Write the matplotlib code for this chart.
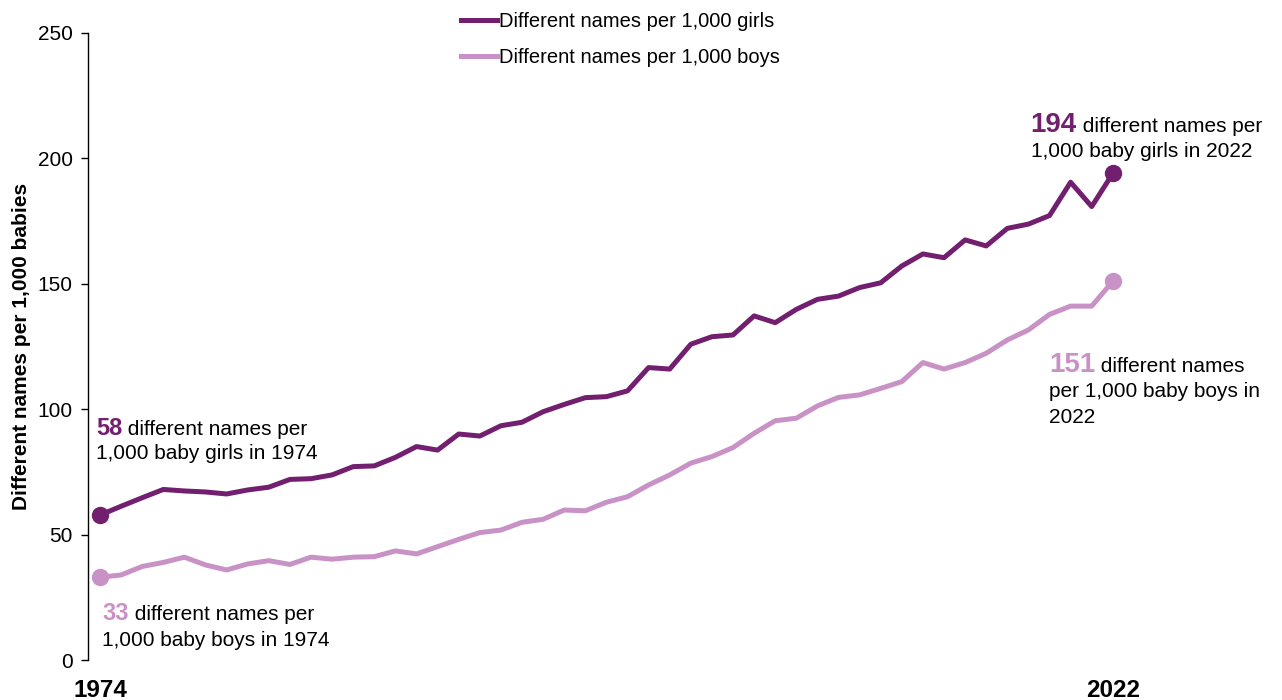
import matplotlib
matplotlib.use("Agg")
import matplotlib.pyplot as plt

# ---- data -------------------------------------------------------------
years = list(range(1974, 2023))
girls = [57.8, 61.3, 64.7, 68.0, 67.4, 67.0, 66.2, 67.8, 68.9, 72.0,
         72.3, 73.8, 77.1, 77.4, 80.8, 85.1, 83.7, 90.1, 89.3, 93.4,
         94.8, 99.0, 101.9, 104.6, 105.0, 107.3, 116.6, 116.0, 125.9, 128.9,
         129.6, 137.2, 134.5, 139.8, 143.8, 145.1, 148.5, 150.4, 157.1, 161.9,
         160.4, 167.5, 165.1, 172.1, 173.8, 177.2, 190.5, 180.8, 194.0]
boys = [33.0, 33.9, 37.3, 38.9, 41.0, 37.9, 35.9, 38.3, 39.6, 38.1,
        41.0, 40.2, 41.0, 41.2, 43.5, 42.3, 45.2, 48.1, 50.8, 51.8,
        54.9, 56.1, 59.8, 59.5, 62.9, 65.1, 69.8, 73.8, 78.5, 81.1,
        84.7, 90.4, 95.4, 96.4, 101.3, 104.7, 105.7, 108.3, 111.0, 118.6,
        116.0, 118.6, 122.3, 127.6, 131.6, 137.8, 141.1, 141.1, 151.0]
series_labels = ["Different names per 1,000 girls", "Different names per 1,000 boys"]
y_ticks = [0, 50, 100, 150, 200, 250]
x_ticks = [1974, 2022]
y_label = "Different names per 1,000 babies"

GIRL_COLOR = "#731f6f"
BOY_COLOR = "#c992c6"

plt.rcParams['font.family'] = ['Liberation Sans', 'DejaVu Sans']

fig = plt.figure(figsize=(12.82, 7.0), dpi=100)
ax = fig.add_axes([88 / 1282, 40 / 700, (1270 - 88) / 1282, 627 / 700])

ax.plot(years, girls, color=GIRL_COLOR, lw=3.6, label=series_labels[0])
ax.plot(years, boys, color=BOY_COLOR, lw=3.6, label=series_labels[1])
ax.plot([years[0], years[-1]], [girls[0], girls[-1]], 'o', ms=11.5, color=GIRL_COLOR)
ax.plot([years[0], years[-1]], [boys[0], boys[-1]], 'o', ms=11.5, color=BOY_COLOR)

ax.set_xlim(1973.431, 2029.45)
ax.set_ylim(0, 250)
for s in ['top', 'right', 'bottom']:
    ax.spines[s].set_visible(False)
ax.spines['left'].set_color('black')
ax.spines['left'].set_linewidth(1.0)

ax.set_yticks(y_ticks)
ax.tick_params(axis='y', length=5, width=1, labelsize=15, pad=6, colors='black')
ax.set_xticks(x_ticks)
ax.set_xticklabels([str(v) for v in x_ticks], fontsize=17.5, fontweight='bold')
ax.tick_params(axis='x', length=0, pad=13.5)
ax.set_ylabel(y_label, fontsize=15, fontweight='bold', labelpad=5)

ax.legend(loc='upper left', bbox_to_anchor=(461 / 1282, 1 - 12 / 700),
          bbox_transform=fig.transFigure, frameon=False, fontsize=14.5,
          handlelength=1.8, handletextpad=0.1, labelspacing=0.85,
          borderaxespad=0, borderpad=0)

fig.canvas.draw()


def callout(x, y, number, color, lines, num_size, txt_size, gap_px):
    t = ax.text(x, y, number, color=color, fontsize=num_size,
                fontweight='bold', va='baseline', ha='left')
    fig.canvas.draw()
    bb = t.get_window_extent()
    x0, _ = ax.transData.transform((x, y))
    ax.annotate(' ' + lines[0], xy=(x, y), xytext=(bb.x1 - x0, 0),
                textcoords='offset pixels', fontsize=txt_size,
                va='baseline', ha='left', color='black')
    for i, line in enumerate(lines[1:], start=1):
        ax.annotate(line, xy=(x, y), xytext=(0, -gap_px * i),
                    textcoords='offset pixels', fontsize=txt_size,
                    va='baseline', ha='left', color='black')


callout(1973.81, 89.7, "58", GIRL_COLOR,
        ["different names per", "1,000 baby girls in 1974"], 17, 15, 24)
callout(1974.10, 15.95, "33", BOY_COLOR,
        ["different names per", "1,000 baby boys in 1974"], 17, 15, 26)
callout(2018.10, 210.65, "194", GIRL_COLOR,
        ["different names per", "1,000 baby girls in 2022"], 20, 15, 25)
callout(2018.98, 114.95, "151", BOY_COLOR,
        ["different names", "per 1,000 baby boys in", "2022"], 20, 15, 25.5)

fig.savefig("out.png", dpi=100)
